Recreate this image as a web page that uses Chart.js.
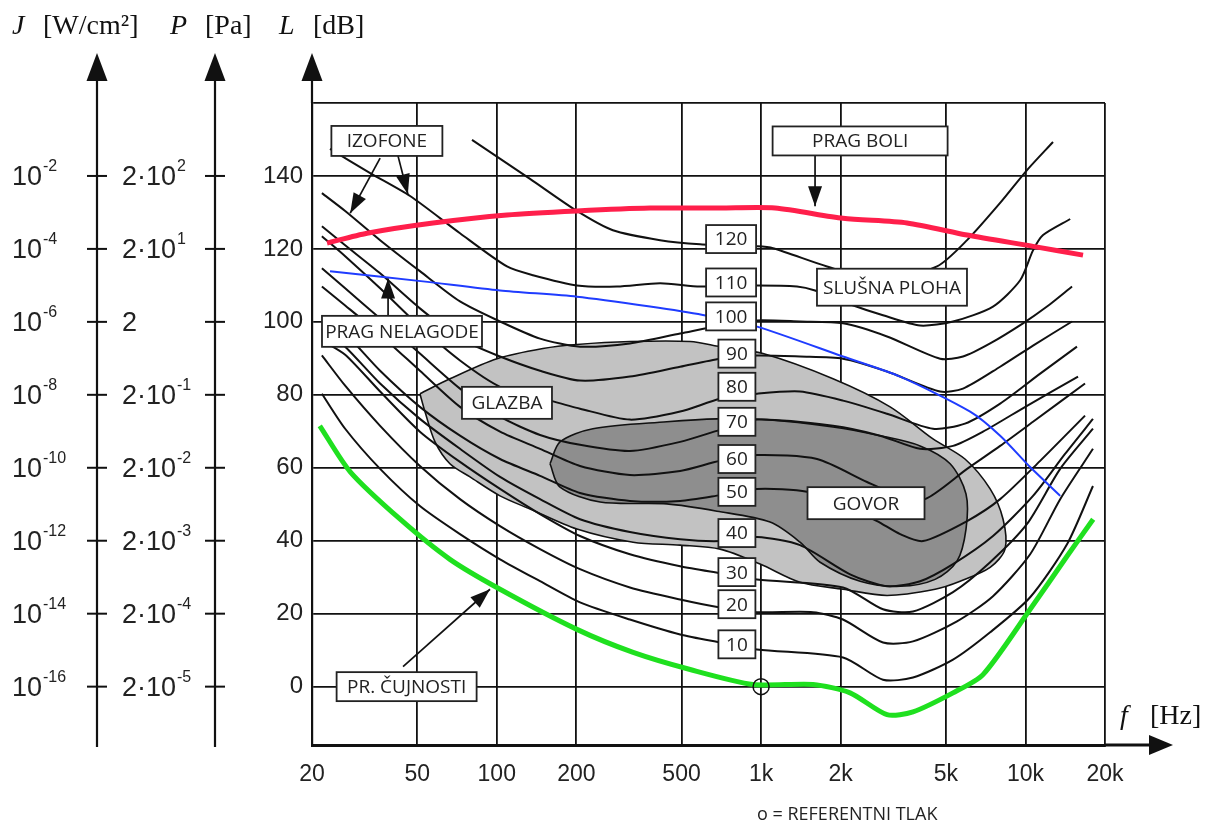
<!DOCTYPE html>
<html>
<head>
<meta charset="utf-8">
<script src="https://cdn.jsdelivr.net/npm/chart.js@4.4.0/dist/chart.umd.min.js"></script>
<style>
  body { margin: 0; background: #fff; }
  canvas { display: block; }
</style>
</head>
<body>
<canvas id="c" width="1212" height="825"></canvas>
<script>
// axis ticks
const xTicks = [20, 50, 100, 200, 500, 1000, 2000, 5000, 10000, 20000];
const xTickLabels = ['20', '50', '100', '200', '500', '1k', '2k', '5k', '10k', '20k'];
const lTicks = [0, 20, 40, 60, 80, 100, 120, 140, 160];
const lTickLabels = ['0', '20', '40', '60', '80', '100', '120', '140', ''];
// J [W/cm2] and P [Pa] at the same levels as L = 0..140 dB  (base, exponent)
const jTickLabels = [['10', '-16'], ['10', '-14'], ['10', '-12'], ['10', '-10'], ['10', '-8'], ['10', '-6'], ['10', '-4'], ['10', '-2']];
const pTickLabels = [['2·10', '-5'], ['2·10', '-4'], ['2·10', '-3'], ['2·10', '-2'], ['2·10', '-1'], ['2', ''], ['2·10', '1'], ['2·10', '2']];

// isophones [f Hz, L dB]
const iso120 = [[80.6,149.9],[133.6,139.2],[201,130.4],[275,125.1],[415,122.4],[588,121.3],[965,120.7],[1109,120.2],[1776,115.2],[2820,111.4],[4629,115.2],[6016,122.4],[8024,132.6],[10140,141.6],[12717,149.3]];
const iso110 = [[23.4,147.4],[33.2,140.8],[47,134.5],[72.6,124.3],[109.3,115.2],[137.1,112.8],[201,110],[285,109.7],[415,110.6],[588,109.7],[965,110],[1367,109.7],[1600,108.6],[2114,105.1],[2892,101.8],[3996,99],[5322,100.1],[7538,104.2],[9552,111.4],[10684,119.6],[11660,123.8],[14767,128.2]];
const iso100 = [[21.8,135.3],[26.7,130.4],[36.2,122.4],[51.2,113.9],[72.6,105.6],[102.9,100.1],[145.8,95.4],[206.5,93.2],[319,94.1],[494,96.8],[700,99],[965,100.4],[1404,100.1],[2041,99.6],[2995,96],[4757,89.9],[5806,90.5],[7354,94.1],[9790,99.6],[12068,104.2],[15008,109.7]];
const iso90 = [[21.8,126.2],[26.7,121],[36.2,113.3],[51.2,103.7],[72.6,95.4],[102.9,90.5],[145.8,86.6],[206.5,83.9],[319,85],[494,87.7],[700,89.9],[965,90.8],[1404,90.5],[2041,89.9],[2995,86.4],[4757,80.9],[5806,81.7],[8024,87.7],[10684,93.5],[15008,100.1]];
const iso80 = [[21.8,123.5],[26.7,118],[36.2,109.2],[51.2,98.7],[72.6,89.4],[102.9,82.2],[145.8,79.2],[206.5,76.2],[319,73.2],[494,75.4],[700,78.9],[965,80.3],[1404,80.9],[2041,78.4],[2995,74.8],[4470,70.7],[5906,72.1],[8024,77.6],[11370,85.8],[15668,93.2]];
const iso70 = [[21.8,114.7],[26.7,109.2],[36.2,100.9],[51.2,91.3],[72.6,81.7],[102.9,74],[145.8,69],[206.5,66.3],[319,64.6],[494,67.1],[700,70.4],[965,73.2],[1871,71.5],[2820,68.8],[3996,65.2],[5322,66],[6911,69.9],[10140,77],[15814,85]];
const iso60 = [[21.8,109.7],[26.7,104.5],[36.2,96.5],[51.2,86.6],[72.6,76.7],[102.9,69.9],[145.8,65.2],[206.5,60.5],[319,58],[494,59.1],[700,61.9],[965,63.5],[1628,62.4],[2516,56.1],[3357,52.3],[4170,51.4],[6016,59.7],[8024,66],[10684,72.6],[16808,83.1]];
const iso50 = [[21.8,101.5],[26.7,96.8],[36.2,86.6],[51.2,76.7],[72.6,68.8],[102.9,62.4],[145.8,57.8],[206.5,53.1],[319,50.9],[494,50.9],[700,52.5],[965,54.2],[1492,53.4],[2171,48.7],[2746,45.4],[3357,41.8],[4098,39.9],[6016,45.4],[8024,51.4],[11370,61.9],[16808,74.3]];
const iso40 = [[21.8,98.2],[26.7,93.2],[36.2,83.1],[51.2,73.4],[72.6,65.2],[102.9,57.5],[145.8,51.4],[206.5,45.9],[319,42.4],[494,40.4],[700,39.9],[965,41],[1404,38.8],[2171,30.8],[2995,27.5],[3996,28.9],[5322,33.6],[7538,41.3],[10684,52.3],[14118,63.8],[18010,73.4]];
const iso30 = [[21.8,94.9],[26.7,91],[36.2,80.9],[51.2,69.9],[72.6,61.6],[102.9,54.2],[145.8,47.3],[206.5,41.3],[319,36.3],[494,33],[700,31.1],[965,29.4],[2041,27.2],[2892,21.2],[3755,20.6],[5322,25.9],[7354,34.1],[10140,44.6],[13535,59.7],[18010,70.7]];
const iso20 = [[21.8,90.8],[26.7,82.5],[36.2,71.5],[51.2,60.5],[72.6,51.4],[102.9,44],[145.8,37.7],[206.5,32.2],[319,27.2],[494,23.9],[700,21.7],[965,20.4],[1572,20.4],[2041,18.4],[2892,12.1],[3755,12.4],[5510,17.9],[7538,24.8],[10420,36.3],[13535,51.4],[18010,65.2]];
const iso10 = [[21.8,80.3],[26.7,70.7],[36.2,59.7],[51.2,49.5],[72.6,41.8],[102.9,34.9],[145.8,28.9],[206.5,23.1],[319,18.4],[494,14.3],[700,12.1],[965,10.2],[2041,8],[2892,1.9],[3755,2.5],[5322,7.4],[7354,14.9],[10420,24.5],[14383,39.1],[18010,55]];

// thresholds
const hearingThreshold = [[21.4,71.5],[27.9,58.9],[43.1,45.9],[66.5,34.9],[102.9,26.7],[201,15.7],[328,9.4],[539,4.7],[932,0.6],[1572,0.6],[2171,-1.7],[2995,-7.7],[3755,-6.9],[5322,-1.7],[6911,3.3],[10420,21.2],[14383,35.8],[18041,45.9]];
const painThreshold = [[22.8,121.6],[32.3,124.3],[57.4,127.1],[109.3,129.3],[201,130.4],[380,131.2],[700,131.2],[1129,131.2],[2041,128.4],[3565,127.1],[6016,123.8],[10690,120.7],[16515,118.3]];
const discomfortThreshold = [[23.4,113.9],[52.6,111.1],[102.9,108.6],[201,106.9],[380,104.2],[602,101.9],[965,98.7],[2041,90.5],[3357,85],[6178,75.4],[8024,68.8],[10420,60.2],[13535,52.3]];

// areas (closed outlines)
const musicArea = [[51.2,80.3],[66.5,84.4],[100.2,89.9],[149.5,92.7],[201,93.8],[319,94.6],[539,94.6],[700,93.2],[1017,91.3],[1871,84.4],[3077,76.7],[4470,67.9],[5906,62.4],[7354,54.2],[8230,45.9],[8372,37.7],[7354,32.7],[5663,28.9],[4553,26.7],[2995,25],[2041,26.7],[1404,28.6],[991,33.6],[700,37.7],[494,38.8],[328,39.6],[201,43.2],[133.6,48.7],[102.9,52.3],[79.2,57.5],[66.5,61.1],[58.4,67.1],[53.5,75.4],[51.2,80.3]];
const speechArea = [[159,61.1],[173.5,67.1],[231,70.7],[440,72.6],[681,73.4],[1053,73.2],[1871,71.2],[2820,68.8],[3996,66],[5190,61.1],[5960,52.8],[5960,43.2],[5510,34.4],[4553,29.4],[3357,27.5],[2369,28.9],[1672,34.1],[1404,39.6],[1081,45.1],[681,48.1],[440,50.1],[246,50.6],[173.5,54.7],[159,61.1]];

const referencePoint = [[1000, 0]];

// text boxes
const boxLabels = [
    {text: 'IZOFONE', f: 38.4, db: 149.6, w: 111, h: 30},
    {text: 'PRAG BOLI', f: 2369, db: 149.6, w: 175, h: 29},
    {text: 'SLUŠNA PLOHA', f: 3127, db: 109.5, w: 150, h: 37},
    {text: 'PRAG NELAGODE', f: 43.8, db: 97.4, w: 160, h: 31},
    {text: 'GLAZBA', f: 109.3, db: 77.8, w: 90, h: 32},
    {text: 'GOVOR', f: 2494, db: 50.3, w: 117, h: 32},
    {text: 'PR. ČUJNOSTI', f: 45.6, db: 0, w: 140, h: 29}
];
const phonLabels = ['120', '110', '100', '90', '80', '70', '60', '50', '40', '30', '20', '10'];
const phonLabelLevels = [122.7, 110.8, 101.5, 91.3, 82.2, 72.6, 62.4, 53.4, 42.1, 31.4, 22.6, 11.6];
const phonBoxFreq3 = 770;
const phonBoxFreq2 = 810;
// pointer arrows [from, to]
const pointers = [
    [[36.2, 144.9], [27.9, 129.8]],
    [[42.3, 145.5], [46.1, 135.0]],
    [[1600, 145.5], [1600, 131.7]],
    [[38.8, 101.8], [38.8, 111.9]],
    [[44.2, 5.5], [94.3, 26.7]]
];

const sans = "'Liberation Sans', Arial, sans-serif";
const serif = "'Liberation Serif', 'Times New Roman', serif";
const boxFont = "'Open Sans', sans-serif";

function pts(arr) {
    return arr.map(p => ({x: p[0], y: p[1]}));
}
function curve(data, color, width, order) {
    return {data: pts(data), showLine: true, borderColor: color, borderWidth: width, pointRadius: 0, tension: 0.25, fill: false, order: order};
}
function area(data, color, order) {
    return {data: pts(data), showLine: true, borderColor: '#111', borderWidth: 1.6, backgroundColor: color, pointRadius: 0, tension: 0.3, fill: 'shape', order: order};
}

function arrowHead(ctx, x1, y1, x2, y2, len, half) {
    const a = Math.atan2(y2 - y1, x2 - x1);
    const c = Math.cos(a), s = Math.sin(a);
    ctx.beginPath();
    ctx.moveTo(x2, y2);
    ctx.lineTo(x2 - len * c + half * s, y2 - len * s - half * c);
    ctx.lineTo(x2 - len * c - half * s, y2 - len * s + half * c);
    ctx.closePath();
    ctx.fill();
}

function supText(ctx, base, exp, x, y, size) {
    ctx.font = size + 'px ' + sans;
    ctx.textAlign = 'left';
    ctx.textBaseline = 'middle';
    ctx.fillText(base, x, y);
    const w = ctx.measureText(base).width;
    if (exp) {
        ctx.font = Math.round(size * 0.6) + 'px ' + sans;
        ctx.fillText(exp, x + w + 1, y - size * 0.42);
    }
}

const overlay = {
    id: 'overlay',
    beforeDraw(chart) {
        const ctx = chart.ctx;
        ctx.save();
        ctx.fillStyle = '#fff';
        ctx.fillRect(0, 0, chart.width, chart.height);
        ctx.restore();
    },
    afterDatasetsDraw(chart) {
        const ctx = chart.ctx;
        const xs = chart.scales.x, ys = chart.scales.y;
        ctx.save();
        ctx.strokeStyle = '#111';
        ctx.fillStyle = '#111';
        ctx.lineWidth = 1.7;
        pointers.forEach(p => {
            const x1 = xs.getPixelForValue(p[0][0]), y1 = ys.getPixelForValue(p[0][1]);
            const x2 = xs.getPixelForValue(p[1][0]), y2 = ys.getPixelForValue(p[1][1]);
            ctx.beginPath();
            ctx.moveTo(x1, y1);
            ctx.lineTo(x2, y2);
            ctx.stroke();
            arrowHead(ctx, x1, y1, x2, y2, 20, 7);
        });

        const boxes = boxLabels.slice();
        phonLabels.forEach((t, i) => {
            boxes.push({text: t, f: t.length === 3 ? phonBoxFreq3 : phonBoxFreq2, db: phonLabelLevels[i], w: t.length === 3 ? 50 : 37, h: 28});
        });
        boxes.forEach(b => {
            const cx = xs.getPixelForValue(b.f), cy = ys.getPixelForValue(b.db);
            ctx.fillStyle = '#fff';
            ctx.fillRect(cx - b.w / 2, cy - b.h / 2, b.w, b.h);
            ctx.lineWidth = 1.8;
            ctx.strokeStyle = '#222';
            ctx.strokeRect(cx - b.w / 2, cy - b.h / 2, b.w, b.h);
            ctx.fillStyle = '#222';
            ctx.font = '19px ' + boxFont;
            ctx.textAlign = 'center';
            ctx.textBaseline = 'middle';
            ctx.fillText(b.text, cx, cy + 1);
        });
        ctx.restore();
    },
    afterDraw(chart) {
        const ctx = chart.ctx;
        const ys = chart.scales.y;
        const area = chart.chartArea;
        ctx.save();
        ctx.strokeStyle = '#111';
        ctx.fillStyle = '#111';

        // J and P axes
        [[97, jTickLabels, 12], [215, pTickLabels, 122]].forEach(([ax, labels, lx]) => {
            ctx.lineWidth = 2.2;
            ctx.beginPath();
            ctx.moveTo(ax, 70);
            ctx.lineTo(ax, area.bottom + 2);
            ctx.stroke();
            arrowHead(ctx, ax, 90, ax, 53, 28, 10.5);
            ctx.lineWidth = 2;
            for (let i = 0; i < labels.length; i++) {
                const y = ys.getPixelForValue(lTicks[i]);
                ctx.beginPath();
                ctx.moveTo(ax - 10, y);
                ctx.lineTo(ax + 10, y);
                ctx.stroke();
                ctx.fillStyle = '#222';
                supText(ctx, labels[i][0], labels[i][1], lx, y + 2, 27);
            }
            ctx.fillStyle = '#111';
        });

        // L axis arrow
        ctx.lineWidth = 2.2;
        ctx.beginPath();
        ctx.moveTo(area.left, area.top);
        ctx.lineTo(area.left, 70);
        ctx.stroke();
        arrowHead(ctx, area.left, 90, area.left, 53, 28, 10.5);

        // f axis arrow
        ctx.lineWidth = 3;
        ctx.beginPath();
        ctx.moveTo(area.right, area.bottom);
        ctx.lineTo(1155, area.bottom);
        ctx.stroke();
        arrowHead(ctx, 1100, area.bottom, 1173, area.bottom, 24, 10);

        // headings
        ctx.fillStyle = '#111';
        ctx.textBaseline = 'middle';
        ctx.textAlign = 'left';
        const heads = [['J', '[W/cm²]', 12, 43], ['P', '[Pa]', 170, 205], ['L', '[dB]', 279, 313]];
        heads.forEach(h => {
            ctx.font = 'italic 28px ' + serif;
            ctx.fillText(h[0], h[2], 27);
            ctx.font = '28px ' + serif;
            ctx.fillText(h[1], h[3], 27);
        });
        ctx.font = 'italic 28px ' + serif;
        ctx.fillText('f', 1120, 717);
        ctx.font = '28px ' + serif;
        ctx.fillText('[Hz]', 1150, 717);

        // footnote
        ctx.font = '18px ' + boxFont;
        ctx.fillStyle = '#222';
        ctx.fillText('o = REFERENTNI TLAK', 757, 815);
        ctx.restore();
    }
};

new Chart(document.getElementById('c'), {
    type: 'scatter',
    data: {
        datasets: [
            {data: pts(referencePoint), pointRadius: 8, pointStyle: 'circle', borderColor: '#111', borderWidth: 1.5, backgroundColor: 'rgba(0,0,0,0)', order: 0},
            curve(hearingThreshold, '#1fe01f', 5, 1),
            curve(painThreshold, '#ff1f4b', 5, 1),
            curve(discomfortThreshold, '#1f3cff', 2, 1),
            curve(iso120, '#111', 2, 2),
            curve(iso110, '#111', 2, 2),
            curve(iso100, '#111', 2, 2),
            curve(iso90, '#111', 2, 2),
            curve(iso80, '#111', 2, 2),
            curve(iso70, '#111', 2, 2),
            curve(iso60, '#111', 2, 2),
            curve(iso50, '#111', 2, 2),
            curve(iso40, '#111', 2, 2),
            curve(iso30, '#111', 2, 2),
            curve(iso20, '#111', 2, 2),
            curve(iso10, '#111', 2, 2),
            area(speechArea, '#8e8e8e', 3),
            area(musicArea, '#c2c2c2', 4)
        ]
    },
    options: {
        responsive: false,
        animation: false,
        layout: {padding: {left: 0, top: 103, right: 107, bottom: 0}},
        plugins: {legend: {display: false}, tooltip: {enabled: false}},
        scales: {
            x: {
                type: 'logarithmic',
                min: 20,
                max: 20000,
                afterBuildTicks: s => { s.ticks = xTicks.map(v => ({value: v})); },
                afterFit: s => { s.height = 80; },
                ticks: {
                    autoSkip: false,
                    maxRotation: 0,
                    padding: 16,
                    color: '#222',
                    font: {family: sans, size: 23},
                    callback: (v, i) => xTickLabels[i]
                },
                grid: {color: '#111', lineWidth: 1.8, drawTicks: false},
                border: {color: '#111', width: 3}
            },
            y: {
                type: 'linear',
                min: -16,
                max: 160,
                afterBuildTicks: s => { s.ticks = lTicks.map(v => ({value: v})); },
                afterFit: s => { s.width = 312; },
                ticks: {
                    padding: 9,
                    color: '#222',
                    font: {family: sans, size: 24},
                    callback: (v, i) => lTickLabels[i]
                },
                grid: {color: '#111', lineWidth: 1.8, drawTicks: false},
                border: {color: '#111', width: 2.2}
            }
        }
    },
    plugins: [overlay]
});
</script>
</body>
</html>
